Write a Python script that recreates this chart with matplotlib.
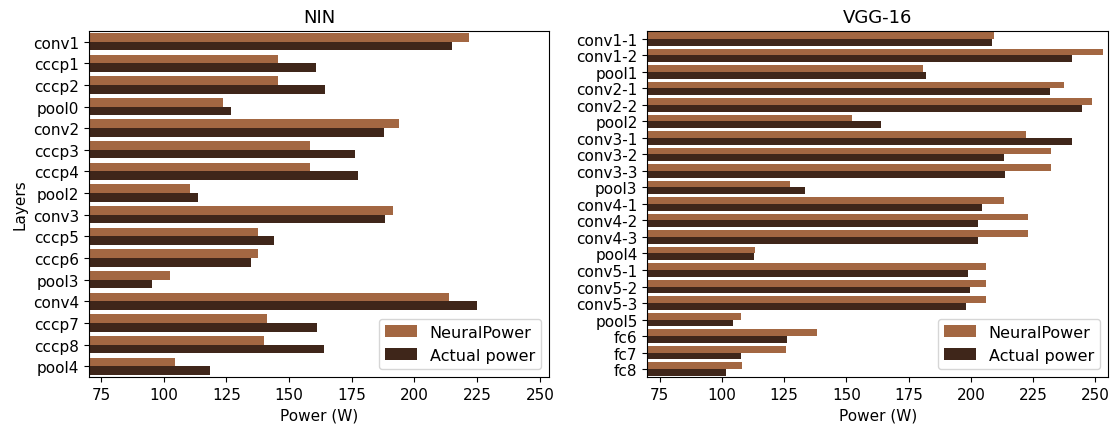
import matplotlib
matplotlib.use("Agg")
import matplotlib.pyplot as plt
import numpy as np

nin_layers = ["conv1", "cccp1", "cccp2", "pool0", "conv2", "cccp3", "cccp4", "pool2",
              "conv3", "cccp5", "cccp6", "pool3", "conv4", "cccp7", "cccp8", "pool4"]
nin_neuralpower = [221.6, 145.6, 145.6, 123.6, 193.8, 158.2, 158.2, 110.4,
                   191.6, 137.4, 137.4, 102.4, 213.7, 141.0, 140.1, 104.4]
nin_actual = [214.8, 160.6, 164.2, 126.9, 187.9, 176.3, 177.5, 113.6,
              188.3, 144.1, 134.9, 95.2, 224.9, 161.1, 163.8, 118.5]

vgg_layers = ["conv1-1", "conv1-2", "pool1", "conv2-1", "conv2-2", "pool2", "conv3-1",
              "conv3-2", "conv3-3", "pool3", "conv4-1", "conv4-2", "conv4-3", "pool4",
              "conv5-1", "conv5-2", "conv5-3", "pool5", "fc6", "fc7", "fc8"]
vgg_neuralpower = [209.3, 253.2, 180.8, 237.4, 248.6, 152.2, 222.1, 232.2, 232.2, 127.2,
                   213.3, 222.9, 222.9, 113.2, 206.1, 206.1, 206.1, 107.5, 138.1, 125.6, 107.9]
vgg_actual = [208.5, 240.7, 182.0, 231.7, 244.6, 163.9, 240.7, 213.3, 213.7, 133.3,
              204.5, 202.8, 202.8, 112.7, 198.8, 199.7, 198.0, 104.4, 126.1, 107.5, 101.5]

series_names = ["NeuralPower", "Actual power"]
xticks = [75, 100, 125, 150, 175, 200, 225, 250]

c_np = "#a36742"
c_act = "#3f261a"

fig = plt.figure(figsize=(11.13, 4.27), dpi=100)
ax1 = fig.add_axes([0.0800, 0.1141, 0.4136, 0.8117])
ax2 = fig.add_axes([0.5816, 0.1141, 0.4142, 0.8117])


def draw(ax, layers, npv, act, title, ylabel, xlim):
    y = np.arange(len(layers))
    h = 0.4
    ax.barh(y - h / 2, npv, height=h, color=c_np, label=series_names[0])
    ax.barh(y + h / 2, act, height=h, color=c_act, label=series_names[1])
    ax.set_yticks(y)
    ax.set_yticklabels(layers, fontsize=11)
    ax.set_ylim(len(layers) - 0.5, -0.5)
    ax.set_xlim(*xlim)
    ax.set_xticks(xticks)
    ax.tick_params(axis="x", labelsize=11)
    ax.set_xlabel("Power (W)", fontsize=11)
    if ylabel:
        ax.set_ylabel(ylabel, fontsize=11)
    ax.set_title(title, fontsize=13)
    ax.legend(loc="lower right", fontsize=11.5, handlelength=2.0, handleheight=0.8)


draw(ax1, nin_layers, nin_neuralpower, nin_actual, "NIN", "Layers", (70.2, 253.8))
draw(ax2, vgg_layers, vgg_neuralpower, vgg_actual, "VGG-16", None, (70.0, 255.2))

fig.savefig("out.png", dpi=100)
